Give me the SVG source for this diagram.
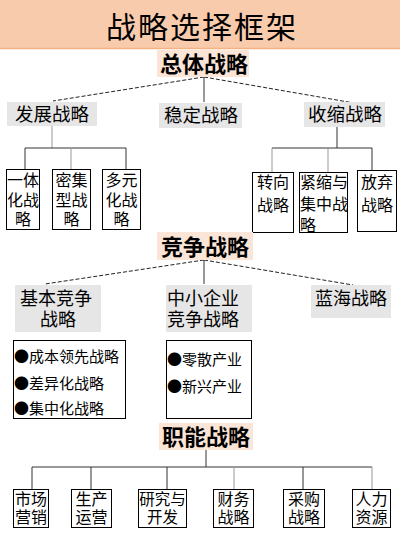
<svg xmlns="http://www.w3.org/2000/svg" width="400" height="533" viewBox="0 0 400 533">
<style>
text{font-family:"Noto Sans CJK SC","Liberation Sans",sans-serif;fill:#000}
.hd{fill:#FBE5D6}
.hdt{font-size:22px;font-weight:bold;text-anchor:middle}
.gb{fill:#E7E6E6}
.gt{font-size:18.5px}
.bx{fill:#fff;stroke:#000;stroke-width:1}
.st{font-size:16px}
.lt{font-size:15px}
.c{text-anchor:middle}
.ln{stroke:#333;stroke-width:1;fill:none}
.lg{stroke:#999;stroke-width:1;fill:none}
.ds{stroke:#222;stroke-width:1;stroke-dasharray:4 2;fill:none}
</style>
<rect width="400" height="533" fill="#fff"/>
<g id="title">
<rect x="0" y="0" width="400" height="48" fill="#F8CBAD"/>
<line x1="0" y1="48.5" x2="400" y2="48.5" stroke="#F4B183" stroke-width="1.5"/>
<text x="202" y="38" font-size="30" text-anchor="middle" letter-spacing="2">战略选择框架</text>
</g>
<g id="connectors">
<line class="ds" x1="204" y1="77" x2="53" y2="101"/>
<line class="ds" x1="204" y1="77" x2="354" y2="103"/>
<line class="ln" x1="204" y1="77" x2="204" y2="102"/>
<line class="lg" x1="52" y1="126" x2="52" y2="148"/>
<line class="ln" x1="25" y1="148" x2="126" y2="148"/>
<line class="ln" x1="25" y1="148" x2="25" y2="169"/>
<line class="lg" x1="71" y1="148" x2="71" y2="169"/>
<line class="ln" x1="126" y1="148" x2="126" y2="169"/>
<line class="ln" x1="337" y1="127" x2="337" y2="148"/>
<line class="ln" x1="272" y1="148" x2="372" y2="148"/>
<line class="lg" x1="272" y1="148" x2="272" y2="172"/>
<line class="lg" x1="328" y1="148" x2="328" y2="172"/>
<line class="ln" x1="372" y1="148" x2="372" y2="170"/>
<line class="ds" x1="204" y1="260" x2="45" y2="284"/>
<line class="ds" x1="204" y1="260" x2="353" y2="285"/>
<line class="ln" x1="204" y1="260" x2="204" y2="284"/>
<line class="ln" x1="206" y1="450" x2="206" y2="467"/>
<line class="ln" x1="32" y1="467" x2="372" y2="467"/>
<line class="ln" x1="32" y1="467" x2="32" y2="489"/>
<line class="ln" x1="91" y1="467" x2="91" y2="489"/>
<line class="ln" x1="167" y1="467" x2="167" y2="489"/>
<line class="lg" x1="234" y1="467" x2="234" y2="489"/>
<line class="ln" x1="303" y1="467" x2="303" y2="489"/>
<line class="lg" x1="372" y1="467" x2="372" y2="489"/>
</g>
<g id="zongti">
<rect class="hd" x="157" y="50" width="92" height="27"/>
<text class="hdt" x="204" y="72">总体战略</text>
</g>
<g id="fazhan">
<rect class="gb" x="7" y="102" width="90" height="24"/>
<text class="gt" x="52" y="121" text-anchor="middle" font-size="19">发展战略</text>
</g>
<g id="wending">
<rect class="gb" x="159" y="103" width="83" height="25"/>
<text class="gt c" x="201" y="122">稳定战略</text>
</g>
<g id="shousuo">
<rect class="gb" x="304" y="102" width="81" height="25"/>
<text class="gt c" x="345" y="121">收缩战略</text>
</g>
<g id="yitihua">
<rect class="bx" x="6.5" y="169.5" width="33" height="60"/>
<text class="st c" x="23" y="186">一体</text>
<text class="st c" x="23" y="206">化战</text>
<text class="st c" x="23" y="225">略</text>
</g>
<g id="mijixing">
<rect class="bx" x="52.5" y="169.5" width="38" height="60"/>
<text class="st c" x="71.5" y="186">密集</text>
<text class="st c" x="71.5" y="206">型战</text>
<text class="st c" x="71.5" y="225">略</text>
</g>
<g id="duoyuanhua">
<rect class="bx" x="102.5" y="169.5" width="38" height="60"/>
<text class="st c" x="121.5" y="186">多元</text>
<text class="st c" x="121.5" y="206">化战</text>
<text class="st c" x="121.5" y="225">略</text>
</g>
<g id="zhuanxiang">
<rect class="bx" x="252.5" y="172.5" width="41" height="60"/>
<text class="st c" x="273" y="188">转向</text>
<text class="st c" x="273" y="211">战略</text>
</g>
<g id="jinsuo">
<rect class="bx" x="299.5" y="172.5" width="48" height="60"/>
<text class="st" x="300" y="188">紧缩与</text>
<text class="st" x="300" y="210">集中战</text>
<text class="st" x="300" y="231">略</text>
</g>
<g id="fangqi">
<rect class="bx" x="357.5" y="170.5" width="39" height="61"/>
<text class="st c" x="377" y="188">放弃</text>
<text class="st c" x="377" y="211">战略</text>
</g>
<g id="jingzheng">
<rect class="hd" x="157" y="232" width="96" height="28"/>
<text class="hdt" x="205" y="255">竞争战略</text>
</g>
<g id="jiben">
<rect class="gb" x="15" y="285" width="86" height="47"/>
<text x="20" y="305" font-size="18">基本竞争</text>
<text x="58" y="326" font-size="18" text-anchor="middle">战略</text>
</g>
<g id="zhongxiao">
<rect class="gb" x="166" y="285" width="86" height="47"/>
<text x="167" y="305" font-size="18">中小企业</text>
<text x="167" y="326" font-size="18">竞争战略</text>
</g>
<g id="lanhai">
<rect class="gb" x="311" y="285" width="80" height="33"/>
<text x="351" y="305" font-size="18" text-anchor="middle">蓝海战略</text>
</g>
<g id="jiben-list">
<rect class="bx" x="13.5" y="340.5" width="112" height="78"/>
<text class="lt" x="14" y="362">●成本领先战略</text>
<text class="lt" x="14" y="389">●差异化战略</text>
<text class="lt" x="14" y="414">●集中化战略</text>
</g>
<g id="zhongxiao-list">
<rect class="bx" x="166.5" y="340.5" width="85" height="78"/>
<text class="lt" x="167" y="365">●零散产业</text>
<text class="lt" x="167" y="392">●新兴产业</text>
</g>
<g id="zhineng">
<rect class="hd" x="159" y="423" width="94" height="27"/>
<text class="hdt" x="206" y="445">职能战略</text>
</g>
<g id="shichang">
<rect class="bx" x="13.5" y="489.5" width="35" height="38"/>
<text class="st c" x="31" y="505">市场</text>
<text class="st c" x="31" y="523">营销</text>
</g>
<g id="shengchan">
<rect class="bx" x="71.5" y="489.5" width="40" height="38"/>
<text class="st c" x="91.5" y="505">生产</text>
<text class="st c" x="91.5" y="523">运营</text>
</g>
<g id="yanjiu">
<rect class="bx" x="138.5" y="489.5" width="48" height="38"/>
<text class="c" x="162.5" y="505" font-size="15.5">研究与</text>
<text class="c" x="162.5" y="523" font-size="15.5">开发</text>
</g>
<g id="caiwu">
<rect class="bx" x="213.5" y="489.5" width="40" height="38"/>
<text class="st c" x="233.5" y="505">财务</text>
<text class="st c" x="233.5" y="523">战略</text>
</g>
<g id="caigou">
<rect class="bx" x="283.5" y="489.5" width="41" height="38"/>
<text class="st c" x="304" y="505">采购</text>
<text class="st c" x="304" y="523">战略</text>
</g>
<g id="renli">
<rect class="bx" x="352.5" y="489.5" width="38" height="38"/>
<text class="st c" x="371.5" y="505">人力</text>
<text class="st c" x="371.5" y="523">资源</text>
</g>
</svg>
